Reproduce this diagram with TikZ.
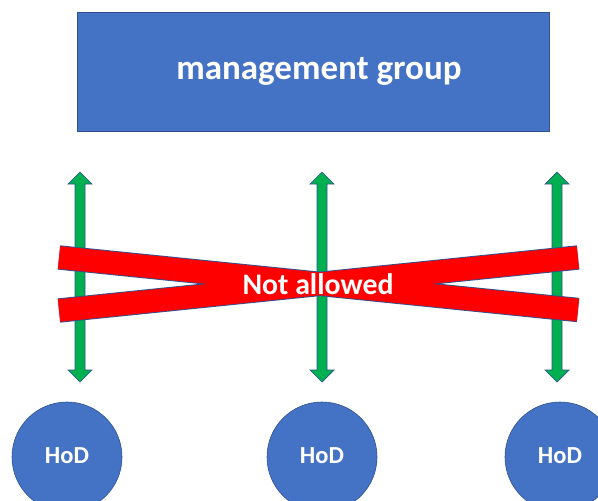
\documentclass[tikz,border=0pt]{standalone}
\usepackage{fontspec}
\setmainfont{Carlito}
\definecolor{boxblue}{HTML}{4472C4}
\definecolor{edgeblue}{HTML}{2F528F}
\definecolor{arrgreen}{HTML}{00B050}
\definecolor{barred}{HTML}{FF0000}

\begin{document}
\begin{tikzpicture}[
  x=1pt, y=-1pt, % Pixelraster, y nach unten
  mgmtbox/.style={rectangle, fill=boxblue, draw=edgeblue, line width=0.8pt,
    inner sep=0pt, minimum width=472pt, minimum height=119pt,
    text=white, font=\bfseries\fontsize{35}{38}\selectfont},
  hodnode/.style={circle, fill=boxblue, draw=edgeblue, line width=0.6pt,
    inner sep=0pt, minimum size=110pt,
    text=white, font=\bfseries\fontsize{24.5}{27}\selectfont},
  updown/.style={fill=arrgreen, draw=edgeblue, line width=0.7pt, line join=miter},
  barborder/.style={draw=edgeblue, line width=24.4pt},
  barfill/.style={draw=barred, line width=22.6pt}
  ]
  \useasboundingbox (0,0) rectangle (598,501);
  \clip (0,0) rectangle (598,501);
% Leitungsgruppe
  \node[mgmtbox] (mgmt) at (313,71.5)
    {\hspace*{12pt}\raisebox{-4pt}{management group}};
% Abteilungsleiter
  \foreach \x [count=\i] in {67,322,560}
    \node[hodnode] (hod\i) at (\x,457) {\raisebox{2pt}{HoD}};
% Doppelpfeile
  \foreach \x in {80,322,557}
    \draw[updown] (\x,172) -- ++(12,12) -- ++(-7,0) -- (\x+5,370) -- ++(7,0)
      -- (\x,382) -- ++(-12,-12) -- ++(7,0) -- (\x-5,184) -- ++(-7,0) -- cycle;
% rotes Kreuz
  \coordinate (xul) at (59,257.5);
  \coordinate (xur) at (578,257.5);
  \coordinate (xll) at (59,310.5);
  \coordinate (xlr) at (578,310);
  \draw[barborder] (xul) -- (xlr) (xll) -- (xur);
  \draw[barfill] (xul) -- (xlr) (xll) -- (xur);
  \node[text=white, font=\bfseries\fontsize{29.8}{32}\selectfont] (notallowed)
    at (318,284) {Not allowed};
\end{tikzpicture}
\end{document}
